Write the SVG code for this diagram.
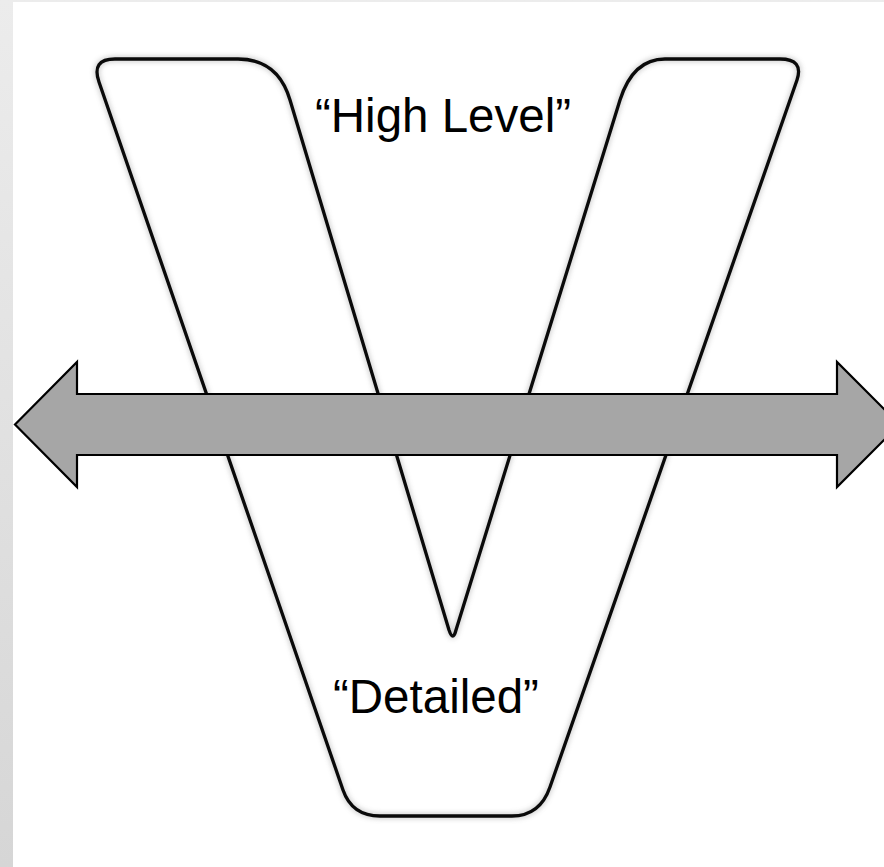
<svg xmlns="http://www.w3.org/2000/svg" width="884" height="867" viewBox="0 0 884 867">
  <defs>
    <linearGradient id="bgGrad" x1="0" y1="0" x2="0" y2="1">
      <stop offset="0" stop-color="#ececec"/>
      <stop offset="1" stop-color="#d6d6d6"/>
    </linearGradient>
    <filter id="soft" x="-5%" y="-5%" width="110%" height="110%">
      <feGaussianBlur stdDeviation="2.5"/>
    </filter>
    <style>
      .vshape { fill: none; stroke-linejoin: round; stroke-linecap: round; }
      .ghost { stroke: #9a9a9a; stroke-width: 6; opacity: 0.45; }
      .main { stroke: #0a0a0a; stroke-width: 3.3; }
      .arrow { fill: #a6a6a6; stroke: #000000; stroke-width: 2.2; stroke-linejoin: miter; }
      .label { font-family: "Liberation Sans", Arial, sans-serif; font-size: 47.5px; fill: #000000; }
    </style>
  </defs>

  <rect x="0" y="0" width="884" height="867" fill="url(#bgGrad)"/>
  <rect x="13" y="2" width="871" height="865" fill="#ffffff"/>

  <g id="v-shape">
    <path class="vshape ghost" filter="url(#soft)" d="M 99,82 Q 91,59 115,59 L 238,59 Q 278,59 290,100 L 449,630 Q 453,642 456,630 L 620,100 Q 633,59 665,59 L 780,59 Q 804,59 797,80 L 550,787 Q 540,816 512,816 L 380,816 Q 352,816 343,790 Z"/>
    <path class="vshape main" d="M 99,82 Q 91,59 115,59 L 238,59 Q 278,59 290,100 L 449,630 Q 453,642 456,630 L 620,100 Q 633,59 665,59 L 780,59 Q 804,59 797,80 L 550,787 Q 540,816 512,816 L 380,816 Q 352,816 343,790 Z"/>
  </g>

  <g id="label-high">
    <text class="label" x="315" y="132">“High Level”</text>
  </g>

  <g id="label-detailed">
    <text class="label" x="333" y="713">“Detailed”</text>
  </g>

  <g id="double-arrow">
    <polygon class="arrow" points="15,424.5 77,362 77,394 837,394 837,362 899.5,424.5 837,487 837,455 77,455 77,487"/>
  </g>
</svg>
